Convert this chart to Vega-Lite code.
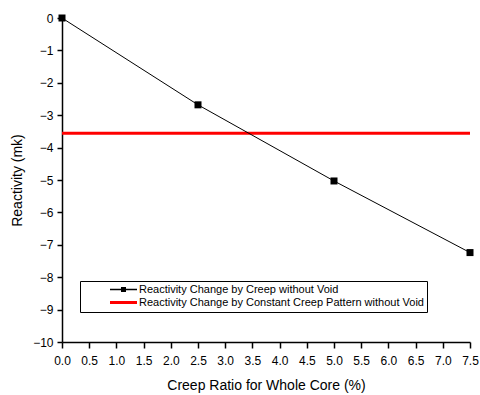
{
  "$schema": "https://vega.github.io/schema/vega-lite/v6.json",
  "width": 408,
  "height": 324,
  "autosize": "none",
  "padding": {"left": 62, "top": 18, "right": 10, "bottom": 53},
  "background": "white",
  "config": {
    "view": {"stroke": null},
    "font": "Liberation Sans",
    "axis": {
      "grid": false,
      "domainColor": "black",
      "domainWidth": 1.5,
      "tickColor": "black",
      "tickWidth": 1.5,
      "labelColor": "black",
      "labelFont": "Liberation Sans",
      "labelFontSize": 12,
      "titleFont": "Liberation Sans",
      "titleFontSize": 14,
      "titleFontWeight": "normal",
      "titleColor": "black",
      "labelFlush": false,
      "labelOverlap": false
    },
    "axisX": {
      "values": [0, 0.25, 0.5, 0.75, 1, 1.25, 1.5, 1.75, 2, 2.25, 2.5, 2.75, 3, 3.25, 3.5, 3.75, 4, 4.25, 4.5, 4.75, 5, 5.25, 5.5, 5.75, 6, 6.25, 6.5, 6.75, 7, 7.25, 7.5],
      "labelExpr": "datum.value % 0.5 === 0 ? format(datum.value, '.1f') : ''",
      "tickSize": {"condition": {"test": "datum.value % 0.5 === 0", "value": 6}, "value": 3},
      "labelPadding": 7,
      "titlePadding": 12
    },
    "axisY": {
      "values": [-10, -9.5, -9, -8.5, -8, -7.5, -7, -6.5, -6, -5.5, -5, -4.5, -4, -3.5, -3, -2.5, -2, -1.5, -1, -0.5, 0],
      "labelExpr": "datum.value % 1 === 0 ? format(datum.value, 'd') : ''",
      "tickSize": {"condition": {"test": "datum.value % 1 === 0", "value": 5}, "value": 4},
      "labelPadding": 4,
      "titlePadding": 8
    }
  },
  "datasets": {
    "creep": [
      {"ratio": 0, "reactivity": 0, "series": "Reactivity Change by Creep without Void"},
      {"ratio": 2.5, "reactivity": -2.68, "series": "Reactivity Change by Creep without Void"},
      {"ratio": 5.0, "reactivity": -5.03, "series": "Reactivity Change by Creep without Void"},
      {"ratio": 7.5, "reactivity": -7.24, "series": "Reactivity Change by Creep without Void"}
    ],
    "constant": [
      {"reactivity": -3.56, "series": "Reactivity Change by Constant Creep Pattern without Void"}
    ]
  },
  "layer": [
    {
      "data": {"name": "constant"},
      "mark": {"type": "rule", "strokeWidth": 3},
      "encoding": {
        "y": {
          "field": "reactivity", "type": "quantitative",
          "scale": {"domain": [-10, 0], "nice": false, "zero": false},
          "title": "Reactivity (mk)"
        },
        "color": {
          "field": "series", "type": "nominal",
          "scale": {
            "domain": ["Reactivity Change by Creep without Void", "Reactivity Change by Constant Creep Pattern without Void"],
            "range": ["black", "#ff0000"]
          },
          "legend": {
            "title": null,
            "orient": "none",
            "legendX": 18,
            "legendY": 263,
            "padding": 3,
            "strokeColor": "black",
            "fillColor": "white",
            "labelFont": "Liberation Sans",
            "labelFontSize": 11,
            "labelColor": "black",
            "labelLimit": 450,
            "labelExpr": "datum.label + '\u00a0\u00a0\u00a0\u00a0\u00a0\u00a0\u00a0'",
            "symbolSize": 100,
            "symbolOffset": 35,
            "labelOffset": 10,
            "rowPadding": 1,
            "encode": {
              "symbols": {
                "update": {
                  "shape": {"signal": "datum.value === 'Reactivity Change by Creep without Void' ? 'M-2.7,0H2.7M-0.35,-0.35H0.35V0.35H-0.35Z' : 'M-2.7,0H2.7'"},
                  "fill": {"signal": "datum.value === 'Reactivity Change by Creep without Void' ? 'black' : 'transparent'"},
                  "stroke": {"signal": "datum.value === 'Reactivity Change by Creep without Void' ? '#555555' : '#ff0000'"},
                  "strokeWidth": {"signal": "datum.value === 'Reactivity Change by Creep without Void' ? 1.5 : 3"},
                  "opacity": {"value": 1}
                }
              }
            }
          }
        }
      }
    },
    {
      "data": {"name": "creep"},
      "mark": {"type": "line", "strokeWidth": 1, "clip": false},
      "encoding": {
        "x": {
          "field": "ratio", "type": "quantitative",
          "scale": {"domain": [0, 7.5], "nice": false, "zero": false},
          "title": "Creep Ratio for Whole Core (%)"
        },
        "y": {"field": "reactivity", "type": "quantitative", "title": "Reactivity (mk)"},
        "color": {"field": "series", "type": "nominal"}
      }
    },
    {
      "data": {"name": "creep"},
      "mark": {"type": "point", "shape": "square", "filled": true, "size": 49, "opacity": 1, "color": "black", "clip": false},
      "encoding": {
        "x": {"field": "ratio", "type": "quantitative", "title": "Creep Ratio for Whole Core (%)"},
        "y": {"field": "reactivity", "type": "quantitative", "title": "Reactivity (mk)"}
      }
    }
  ]
}
